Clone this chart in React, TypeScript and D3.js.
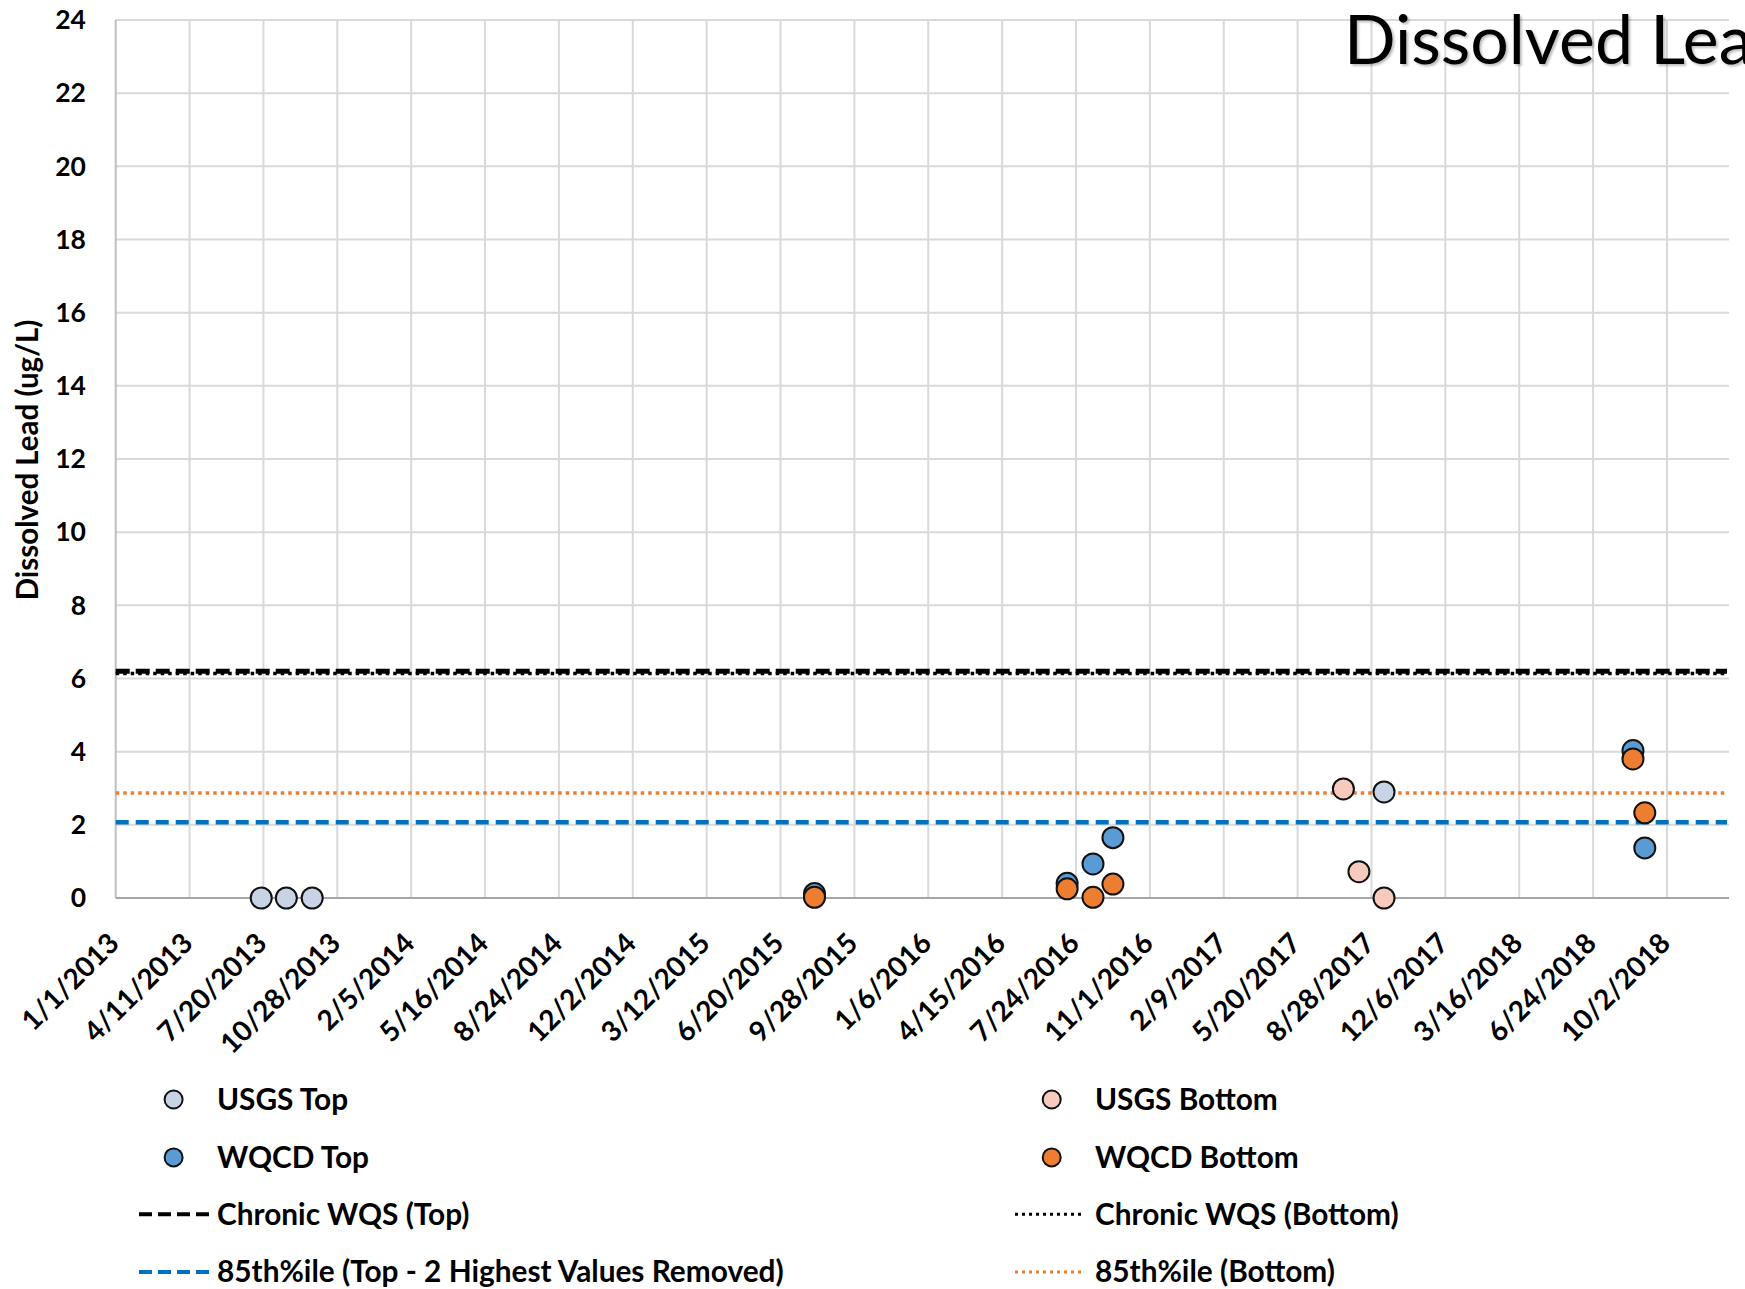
import React from "react";
import * as d3 from "d3";

// ---------- data ----------
const tickLabels = [
  "1/1/2013", "4/11/2013", "7/20/2013", "10/28/2013", "2/5/2014", "5/16/2014",
  "8/24/2014", "12/2/2014", "3/12/2015", "6/20/2015", "9/28/2015", "1/6/2016",
  "4/15/2016", "7/24/2016", "11/1/2016", "2/9/2017", "5/20/2017", "8/28/2017",
  "12/6/2017", "3/16/2018", "6/24/2018", "10/2/2018",
];
const yTicks = [0, 2, 4, 6, 8, 10, 12, 14, 16, 18, 20, 22, 24];
const xDomain = ["1/1/2013", "12/25/2018"];

const usgsTopDates = ["7/17/2013", "8/20/2013", "9/24/2013", "9/14/2017"];
const usgsTopValues = [0, 0, 0, 2.9];

const wqcdTopDates = ["8/5/2015", "7/12/2016", "8/16/2016", "9/12/2016", "8/17/2018", "9/2/2018"];
const wqcdTopValues = [0.12, 0.4, 0.93, 1.65, 4.03, 1.37];

const usgsBottomDates = ["7/21/2017", "8/11/2017", "9/14/2017"];
const usgsBottomValues = [2.98, 0.72, 0];

const wqcdBottomDates = ["8/5/2015", "7/12/2016", "8/16/2016", "9/12/2016", "8/17/2018", "9/2/2018"];
const wqcdBottomValues = [0.02, 0.25, 0.02, 0.38, 3.8, 2.33];

const chronicTop = 6.2;
const chronicBottom = 6.14;
const pct85Top = 2.07;
const pct85Bottom = 2.87;

const titleText = "Dissolved Lead";
const yTitle = "Dissolved Lead (ug/L)";

// ---------- styles ----------
const FONT = "Lato, 'Open Sans', sans-serif";
const C_USGS_TOP = "#C9D3E6";
const C_WQCD_TOP = "#5B9BD5";
const C_USGS_BOT = "#F6CBBE";
const C_WQCD_BOT = "#ED7D31";
const C_P85_TOP = "#0070C0";

const parse = d3.utcParse("%m/%d/%Y");

export default function App() {
  const W = 1745, H = 1289;
  const left = 115.7, right = 1729, top = 20, bottom = 898;

  const x = d3.scaleUtc()
    .domain(xDomain.map((s) => parse(s) as Date))
    .range([left, right]);
  const y = d3.scaleLinear().domain([0, 24]).range([bottom, top]);

  const lineY = (v: number) => y(v);
  const x0 = x(parse(xDomain[0]) as Date);
  const x1 = x(parse(xDomain[1]) as Date) - 2;

  const series = [
    { dates: usgsTopDates, values: usgsTopValues, fill: C_USGS_TOP },
    { dates: wqcdTopDates, values: wqcdTopValues, fill: C_WQCD_TOP },
    { dates: usgsBottomDates, values: usgsBottomValues, fill: C_USGS_BOT },
    { dates: wqcdBottomDates, values: wqcdBottomValues, fill: C_WQCD_BOT },
  ];

  const legendRows = [1099.5, 1157.4, 1214.2, 1272];
  const col1 = { marker: 173.6, lineX0: 139, lineX1: 213, text: 217 };
  const col2 = { marker: 1051.7, lineX0: 1015, lineX1: 1082, text: 1095 };

  return (
    <svg
      width={W}
      height={H}
      viewBox={`0 0 ${W} ${H}`}
      style={{ position: "absolute", left: 0, top: 0, background: "#fff" }}
    >
      <defs>
        <filter id="tshadow" x="-5%" y="-20%" width="110%" height="140%">
          <feDropShadow dx="2" dy="2" stdDeviation="1.2" floodColor="#000" floodOpacity="0.25" />
        </filter>
      </defs>
      <rect x={0} y={0} width={W} height={H} fill="#fff" />

      {/* horizontal gridlines */}
      {yTicks.filter((t) => t > 0).map((t) => (
        <line key={"hg" + t} x1={left} x2={right} y1={y(t)} y2={y(t)} stroke="#D9D9D9" strokeWidth={2} />
      ))}
      {/* vertical gridlines */}
      {tickLabels.map((lab, i) => {
        const xx = x(parse(lab) as Date);
        return (
          <line key={"vg" + i} x1={xx} x2={xx} y1={top} y2={bottom} stroke={i === 0 ? "#BFBFBF" : "#D9D9D9"} strokeWidth={2} />
        );
      })}
      {/* x axis line */}
      <line x1={left} x2={right} y1={bottom} y2={bottom} stroke="#A6A6A6" strokeWidth={2} />

      {/* y tick labels */}
      {yTicks.map((t) => (
        <text key={"yt" + t} x={86} y={y(t)} dy="0.35em" textAnchor="end" fontFamily={FONT} fontWeight="bold" fontSize={26.5} fill="#000">
          {t}
        </text>
      ))}
      {/* x tick labels */}
      {tickLabels.map((lab, i) => {
        const xx = x(parse(lab) as Date);
        return (
          <text key={"xt" + i} transform={`translate(${xx + 5},${bottom + 47}) rotate(-45)`} textAnchor="end" fontFamily={FONT} fontWeight="bold" fontSize={28} fill="#000">
            {lab}
          </text>
        );
      })}
      {/* y title */}
      <text transform={`translate(38,${460}) rotate(-90)`} textAnchor="middle" fontFamily={FONT} fontWeight="bold" fontSize={29.5} fill="#000">
        {yTitle}
      </text>

      {/* reference lines */}
      <line x1={x0} x2={x1} y1={lineY(chronicBottom)} y2={lineY(chronicBottom)} stroke="#000" strokeWidth={3.5} strokeDasharray="3.5,4" />
      <line x1={x0} x2={x1} y1={lineY(chronicTop)} y2={lineY(chronicTop)} stroke="#000" strokeWidth={5} strokeDasharray="14,6" />
      <line x1={x0} x2={x1} y1={lineY(pct85Bottom)} y2={lineY(pct85Bottom)} stroke={C_WQCD_BOT} strokeWidth={3.5} strokeDasharray="3.5,4" />
      <line x1={x0} x2={x1} y1={lineY(pct85Top)} y2={lineY(pct85Top)} stroke={C_P85_TOP} strokeWidth={4.5} strokeDasharray="13,7" />

      {/* markers */}
      {series.map((s, si) => (
        <g key={"s" + si}>
          {s.dates.map((d, i) => (
            <circle key={i} cx={x(parse(d) as Date)} cy={y(s.values[i])} r={10.5} fill={s.fill} stroke="#111" strokeWidth={2} />
          ))}
        </g>
      ))}

      {/* title */}
      <text x={1344} y={64} fontFamily={FONT} fontSize={68} fill="#000" filter="url(#tshadow)">
        {titleText}
      </text>

      {/* legend */}
      <g fontFamily={FONT} fontWeight="bold" fontSize={29.8} fill="#000">
        <circle cx={col1.marker} cy={legendRows[0]} r={9} fill={C_USGS_TOP} stroke="#111" strokeWidth={2} />
        <text x={col1.text} y={legendRows[0]} dy="0.35em">USGS Top</text>
        <circle cx={col1.marker} cy={legendRows[1]} r={9} fill={C_WQCD_TOP} stroke="#111" strokeWidth={2} />
        <text x={col1.text} y={legendRows[1]} dy="0.35em">WQCD Top</text>
        <line x1={col1.lineX0} x2={col1.lineX1} y1={legendRows[2]} y2={legendRows[2]} stroke="#000" strokeWidth={4} strokeDasharray="13,6" />
        <text x={col1.text} y={legendRows[2]} dy="0.35em">Chronic WQS (Top)</text>
        <line x1={col1.lineX0} x2={col1.lineX1} y1={legendRows[3]} y2={legendRows[3]} stroke={C_P85_TOP} strokeWidth={4} strokeDasharray="13,6" />
        <text x={col1.text} y={legendRows[3]} dy="0.35em">85th%ile (Top - 2 Highest Values Removed)</text>

        <circle cx={col2.marker} cy={legendRows[0]} r={9} fill={C_USGS_BOT} stroke="#111" strokeWidth={2} />
        <text x={col2.text} y={legendRows[0]} dy="0.35em">USGS Bottom</text>
        <circle cx={col2.marker} cy={legendRows[1]} r={9} fill={C_WQCD_BOT} stroke="#111" strokeWidth={2} />
        <text x={col2.text} y={legendRows[1]} dy="0.35em">WQCD Bottom</text>
        <line x1={col2.lineX0} x2={col2.lineX1} y1={legendRows[2]} y2={legendRows[2]} stroke="#000" strokeWidth={3} strokeDasharray="3,4" />
        <text x={col2.text} y={legendRows[2]} dy="0.35em">Chronic WQS (Bottom)</text>
        <line x1={col2.lineX0} x2={col2.lineX1} y1={legendRows[3]} y2={legendRows[3]} stroke={C_WQCD_BOT} strokeWidth={3} strokeDasharray="3,4" />
        <text x={col2.text} y={legendRows[3]} dy="0.35em">85th%ile (Bottom)</text>
      </g>
    </svg>
  );
}
